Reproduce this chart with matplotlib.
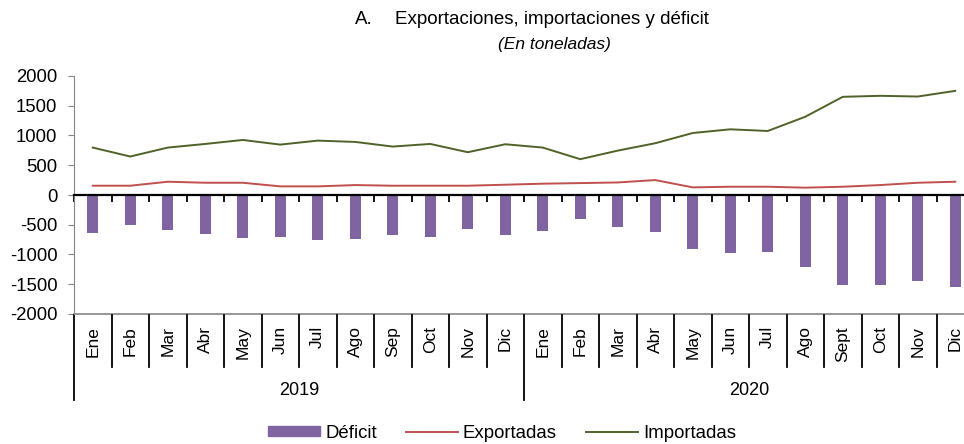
import numpy as np
import matplotlib
matplotlib.use('Agg')
import matplotlib.pyplot as plt
from matplotlib.patches import Patch
from matplotlib.lines import Line2D

# datos (toneladas)
MESES = ['Ene', 'Feb', 'Mar', 'Abr', 'May', 'Jun', 'Jul', 'Ago', 'Sep', 'Oct', 'Nov', 'Dic',
         'Ene', 'Feb', 'Mar', 'Abr', 'May', 'Jun', 'Jul', 'Ago', 'Sept', 'Oct', 'Nov', 'Dic']
ANIOS = ['2019', '2020']
deficit = [-635, -496, -591, -652, -719, -708, -764, -747, -669, -702, -574, -675,
           -602, -401, -540, -619, -903, -970, -959, -1204, -1516, -1505, -1449, -1538]
exportadas = [156, 156, 223, 206, 206, 145, 145, 167, 156, 156, 156, 173,
              190, 200, 211, 251, 128, 139, 139, 123, 139, 167, 206, 223]
importadas = [797, 647, 797, 858, 925, 847, 914, 892, 814, 858, 719, 853,
              797, 602, 746, 870, 1042, 1104, 1076, 1315, 1650, 1667, 1655, 1750]

COLOR_DEF = '#8064A2'
COLOR_EXP = '#C0504D'
COLOR_IMP = '#4F6228'

plt.rcParams['font.family'] = ['Liberation Sans', 'DejaVu Sans']
plt.rcParams['axes.unicode_minus'] = False

W, H = 964, 444
fig = plt.figure(figsize=(W / 100, H / 100), dpi=100)
# ejes: x de 74 a 974 px (el último mes queda casi en el borde)
ax = fig.add_axes([74 / W, 1 - 314 / H, 900 / W, 238 / H])

n = len(MESES)
x = np.arange(n) + 0.5
ax.bar(x, deficit, width=0.3, color=COLOR_DEF, zorder=2)
ax.plot(x, exportadas, color=COLOR_EXP, lw=1.4, zorder=3)
ax.plot(x, importadas, color=COLOR_IMP, lw=1.4, zorder=3)

ax.set_xlim(0, n)
ax.set_ylim(-2000, 2000)
ax.set_yticks(np.arange(-2000, 2001, 500))
ax.tick_params(axis='y', labelsize=13.3, length=4, color='#868686', pad=8)

# eje de categorías en cero
ax.spines['bottom'].set_position(('data', 0))
ax.spines['bottom'].set_color('black')
ax.spines['bottom'].set_linewidth(1.6)
ax.set_xticks(np.arange(0, n + 1))
ax.tick_params(axis='x', direction='out', length=5, width=1.3, labelbottom=False)
ax.spines['top'].set_visible(False)
ax.spines['right'].set_visible(False)
ax.spines['left'].set_color('#868686')
ax.axhline(-2000, color='#868686', lw=1.2, clip_on=False)

# etiquetas de meses y años debajo del gráfico
trans = ax.get_xaxis_transform()
y_top = -0.004
y_mes = -0.223
y_anio = -0.361
for i, m in enumerate(MESES):
    ax.text(i + 0.5, -0.05, m, rotation=90, ha='center', va='top',
            fontsize=12.5, transform=trans)
for b in range(n + 1):
    y_end = y_anio if b % 12 == 0 else y_mes
    ax.plot([b, b], [y_top, y_end], color='black', lw=1.3,
            transform=trans, clip_on=False)
for k, a in enumerate(ANIOS):
    ax.text(12 * k + 6, -0.32, a, ha='center', va='center', fontsize=13,
            transform=trans)

# títulos
fig.text(355 / W, 1 - 19 / H, 'A.', ha='left', va='center', fontsize=13.5)
fig.text(395 / W, 1 - 19 / H, 'Exportaciones, importaciones y déficit',
         ha='left', va='center', fontsize=13.5)
fig.text(554 / W, 1 - 44 / H, '(En toneladas)', ha='center', va='center',
         fontsize=12.5, style='italic')

handles = [Patch(color=COLOR_DEF),
           Line2D([], [], color=COLOR_EXP, lw=1.4),
           Line2D([], [], color=COLOR_IMP, lw=1.4)]
fig.legend(handles, ['Déficit', 'Exportadas', 'Importadas'], ncol=3,
           loc='center', bbox_to_anchor=(502 / W, 1 - 433 / H), frameon=False,
           handlelength=2.8, handleheight=0.5, handletextpad=0.27, columnspacing=1.55,
           prop={'size': 13.4}, borderpad=0)

fig.savefig('out.png', dpi=100)
